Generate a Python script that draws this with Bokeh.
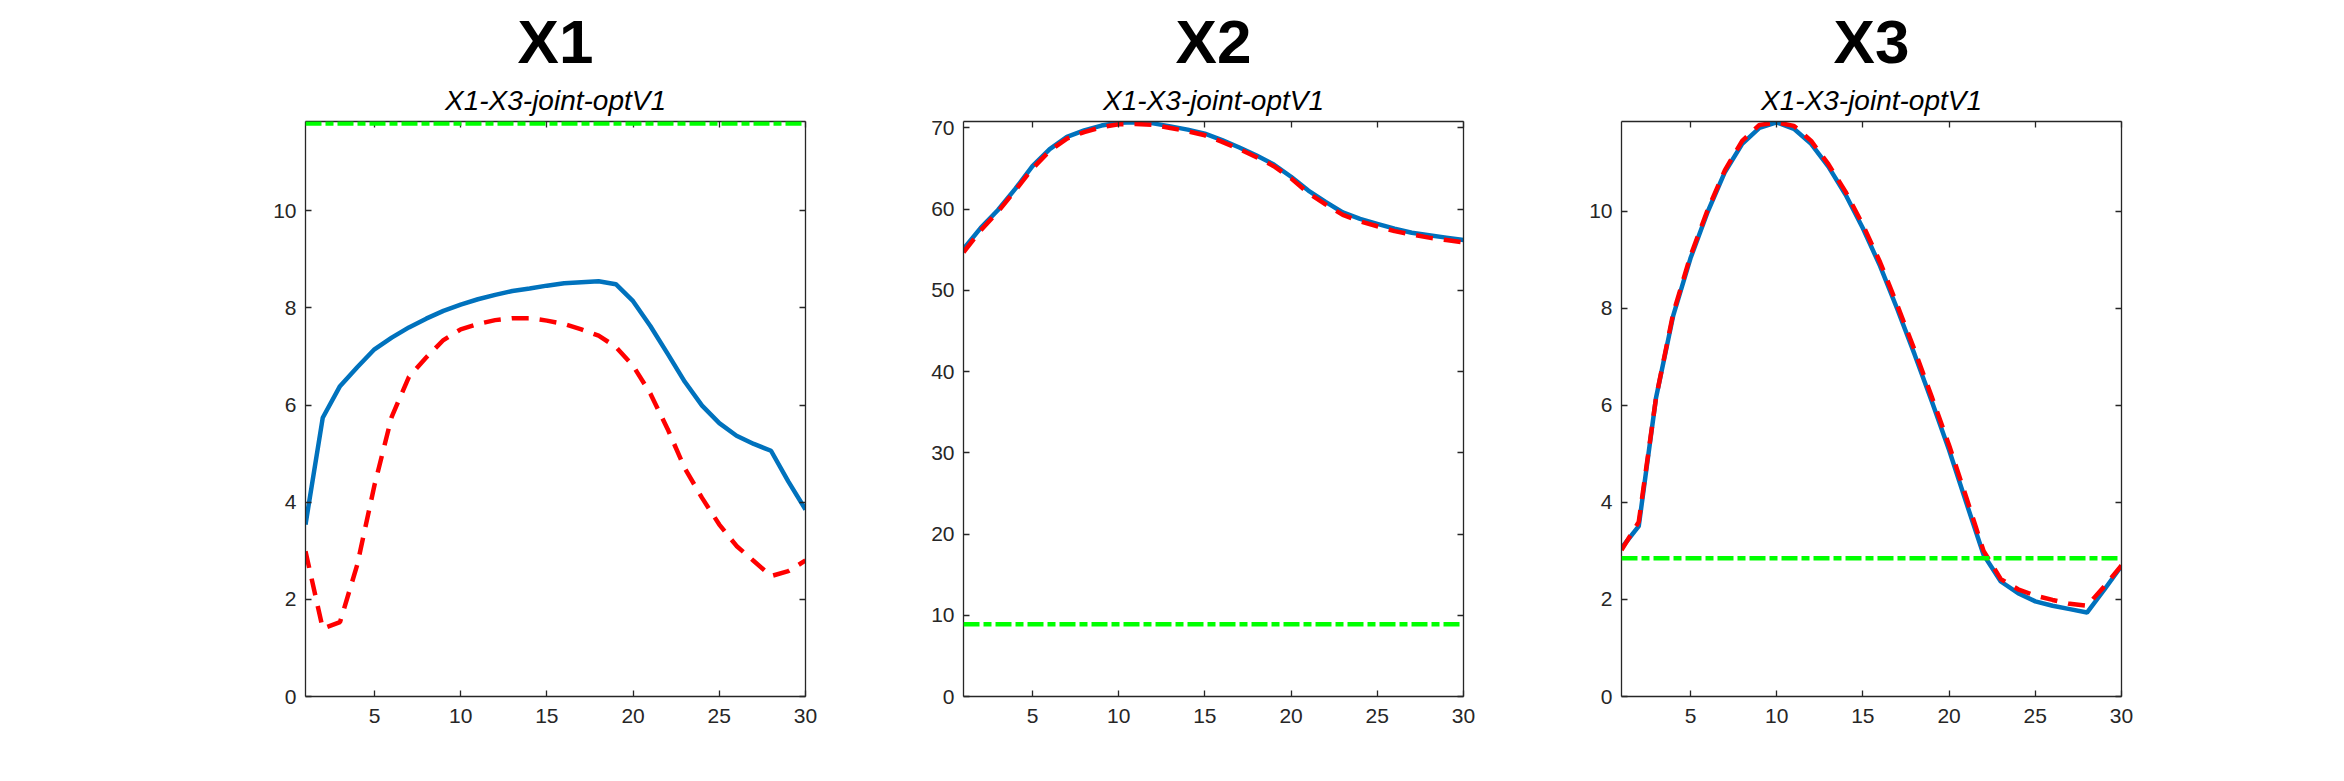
from bokeh.plotting import figure
from bokeh.models import Range1d, FixedTicker, LinearAxis, Title, Span, CustomJSTickFormatter
from bokeh.layouts import row
from bokeh.embed import file_html
from bokeh.resources import INLINE

# ---------------- data ----------------
steps = list(range(1, 31))

x1_opt = [3.54, 5.74, 6.39, 6.78, 7.15, 7.39, 7.60, 7.78, 7.94, 8.07,
          8.18, 8.27, 8.35, 8.40, 8.46, 8.51, 8.53, 8.55, 8.49, 8.14,
          7.63, 7.06, 6.48, 5.99, 5.63, 5.37, 5.20, 5.06, 4.43, 3.85]
x1_ref = [2.99, 1.40, 1.53, 2.71, 4.35, 5.76, 6.58, 6.98, 7.34, 7.56,
          7.67, 7.75, 7.79, 7.79, 7.74, 7.67, 7.56, 7.43, 7.20, 6.81,
          6.24, 5.51, 4.70, 4.09, 3.54, 3.10, 2.79, 2.48, 2.58, 2.80]
x1_limit = 11.8

x2_opt = [55.1, 57.7, 59.9, 62.5, 65.3, 67.4, 68.9, 69.7, 70.3, 70.65,
          70.7, 70.57, 70.2, 69.8, 69.3, 68.5, 67.6, 66.6, 65.5, 64.0,
          62.3, 60.9, 59.6, 58.8, 58.2, 57.6, 57.1, 56.8, 56.5, 56.2]
x2_ref = [54.7, 57.4, 59.7, 62.3, 65.0, 67.2, 68.7, 69.5, 70.1, 70.45,
          70.5, 70.4, 70.0, 69.6, 69.1, 68.3, 67.4, 66.4, 65.3, 63.8,
          62.0, 60.6, 59.3, 58.5, 57.9, 57.3, 56.9, 56.5, 56.2, 55.9]
x2_limit = 8.9

x3_opt = [3.06, 3.51, 6.15, 7.85, 9.03, 9.99, 10.81, 11.39, 11.72, 11.83,
          11.70, 11.39, 10.92, 10.34, 9.65, 8.87, 7.98, 7.05, 6.08, 5.08,
          3.99, 2.92, 2.37, 2.13, 1.96, 1.87, 1.80, 1.73, 2.20, 2.69]
x3_ref = [3.02, 3.60, 6.15, 7.90, 9.08, 10.03, 10.85, 11.45, 11.78, 11.83,
          11.76, 11.45, 10.97, 10.40, 9.72, 8.95, 8.06, 7.14, 6.17, 5.18,
          4.10, 3.00, 2.42, 2.21, 2.08, 1.99, 1.91, 1.87, 2.27, 2.70]
x3_limit = 2.85

titles = ["X1", "X2", "X3"]
subtitle = "X1-X3-joint-optV1"
x_ticks = [5, 10, 15, 20, 25, 30]
y_ticks_small = [0, 2, 4, 6, 8, 10]
y_ticks_large = [0, 10, 20, 30, 40, 50, 60, 70]
y_tops = [11.84, 70.8, 11.85]

# ---------------- styling ----------------
AX = "#262626"
FONT = "Liberation Sans"
BLUE = "#0072BD"
RED = "#FF0000"
GREEN = "#00FF00"


def style_axis(ax, ticks, show_labels, standoff):
    ax.ticker = FixedTicker(ticks=ticks)
    ax.axis_line_color = AX
    ax.axis_line_width = 1.3
    ax.major_tick_line_color = AX
    ax.major_tick_line_width = 1.3
    ax.major_tick_in = 6
    ax.major_tick_out = 0
    ax.minor_tick_line_color = None
    ax.major_label_text_font = FONT
    ax.major_label_text_font_size = "21px"
    ax.major_label_text_color = AX
    ax.major_label_standoff = standoff
    if not show_labels:
        ax.formatter = CustomJSTickFormatter(code="return ''")
        ax.major_label_text_font_size = "1px"
        ax.major_label_standoff = 0


def make_panel(title, opt, ref, limit, yticks, ytop, width, left, right):
    p = figure(width=width, height=773, output_backend="svg", toolbar_location=None,
               x_range=Range1d(1, 30), y_range=Range1d(0, ytop),
               min_border_left=left, min_border_right=right,
               min_border_top=121, min_border_bottom=77,
               x_axis_location=None, y_axis_location=None)
    p.grid.visible = False
    p.outline_line_color = None
    p.background_fill_color = "white"
    p.border_fill_color = "white"

    bx = LinearAxis(); style_axis(bx, x_ticks, True, 12)
    lx = LinearAxis(); style_axis(lx, yticks, True, 9)
    tx = LinearAxis(); style_axis(tx, x_ticks, False, 0)
    rx = LinearAxis(); style_axis(rx, yticks, False, 0)
    p.add_layout(bx, "below")
    p.add_layout(lx, "left")
    p.add_layout(tx, "above")
    p.add_layout(rx, "right")

    p.add_layout(Title(text=subtitle, align="center", text_font=FONT,
                       text_font_size="28px", text_font_style="italic",
                       text_color="black", standoff=11), "above")
    p.add_layout(Title(text=title, align="center", text_font=FONT,
                       text_font_size="62px", text_font_style="bold",
                       text_color="black", standoff=4), "above")

    p.line(steps, opt, line_color=BLUE, line_width=4.5)
    p.line(steps, ref, line_color=RED, line_width=4.5, line_dash="17 11")
    p.add_layout(Span(location=limit, dimension="width", line_color=GREEN,
                      line_width=4.5, line_dash="16 4 8 4"))
    return p


p1 = make_panel(titles[0], x1_opt, x1_ref, x1_limit, y_ticks_small, y_tops[0], 884, 305, 79)
p2 = make_panel(titles[1], x2_opt, x2_ref, x2_limit, y_ticks_large, y_tops[1], 658, 79, 79)
p3 = make_panel(titles[2], x3_opt, x3_ref, x3_limit, y_ticks_small, y_tops[2], 794, 79, 215)

layout = row(p1, p2, p3)
open("out.html", "w").write(file_html(layout, INLINE))
